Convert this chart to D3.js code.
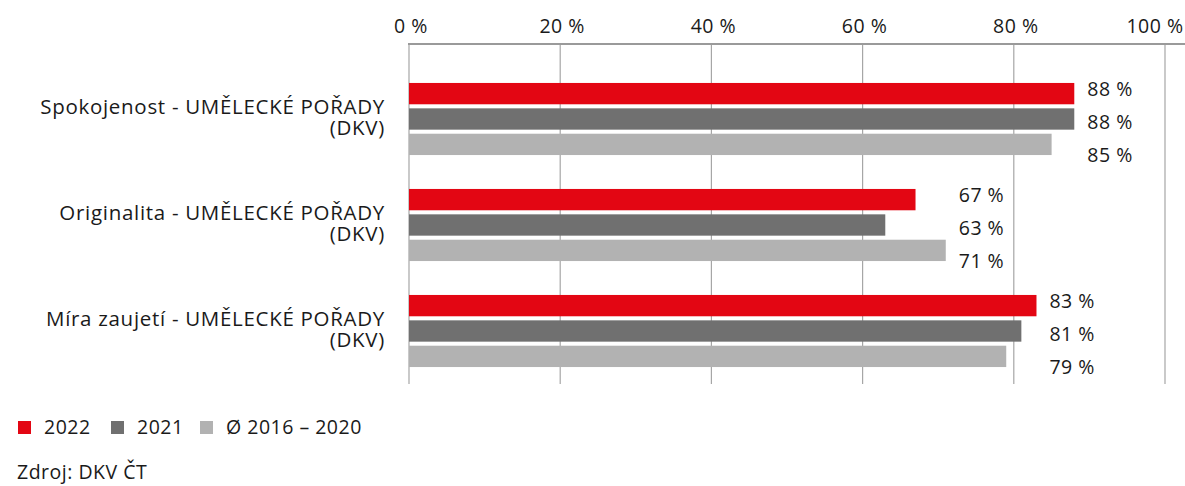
<!DOCTYPE html>
<html>
<head>
<meta charset="utf-8">
<script src="https://cdn.jsdelivr.net/npm/d3@7"></script>
<style>
  body { margin: 0; background: #fff; }
  text { font-family: "Open Sans", sans-serif; fill: #1a1a1a; letter-spacing: 0.5px; }
</style>
</head>
<body>
<script>
// data
var kategorie = [
  ["Spokojenost - UMĚLECKÉ POŘADY", "(DKV)"],
  ["Originalita - UMĚLECKÉ POŘADY", "(DKV)"],
  ["Míra zaujetí - UMĚLECKÉ POŘADY", "(DKV)"]
];
var serie = ["2022", "2021", "Ø 2016 – 2020"];
var hodnoty2022 = [88, 67, 83];
var hodnoty2021 = [88, 63, 81];
var hodnotyPrumer = [85, 71, 79];
var ticky = [0, 20, 40, 60, 80, 100];
var barvy = ["#e30613", "#707070", "#b2b2b2"];

var ancho = 1185, alto = 486;
var hodnoty = [hodnoty2022, hodnoty2021, hodnotyPrumer];
var velikost = 19.5;

var svg = d3.select("body")
  .append("svg")
  .attr("width", ancho)
  .attr("height", alto);

// scales
var x = d3.scaleLinear().domain([0, 100]).range([409, 1165]);
var y = d3.scaleBand().domain(d3.range(kategorie.length))
  .range([66, 384]).paddingInner(0.32).paddingOuter(0.16);
var yIn = d3.scaleBand().domain(d3.range(serie.length))
  .range([0, y.bandwidth()]).paddingInner(0.16);
// popisky hodnot jsou trochu roztazene
var yLab = d3.scalePoint().domain(d3.range(serie.length))
  .range([-30, 36]);

// grid
svg.selectAll(".grid")
  .data(ticky)
  .enter()
  .append("line")
  .attr("x1", d => x(d))
  .attr("x2", d => x(d))
  .attr("y1", 44)
  .attr("y2", 384)
  .attr("stroke", "#a6a6a6")
  .attr("stroke-width", 1.2);

svg.append("line")
  .attr("x1", x(0) - 1)
  .attr("x2", ancho)
  .attr("y1", 44)
  .attr("y2", 44)
  .attr("stroke", "#9a9a9a")
  .attr("stroke-width", 2);

svg.selectAll(".tick")
  .data(ticky)
  .enter()
  .append("text")
  .attr("x", d => Math.min(x(d) + 2, ancho - 30))
  .attr("y", 33)
  .attr("text-anchor", "middle")
  .attr("font-size", velikost)
  .text(d => d + " %");

// bars
var skupiny = svg.selectAll(".g")
  .data(kategorie)
  .enter()
  .append("g")
  .attr("transform", (d, i) => "translate(0," + y(i) + ")");

skupiny.each(function(k, ci) {
  var g = d3.select(this);
  var vals = serie.map((s, si) => hodnoty[si][ci]);
  var maxV = d3.max(vals);
  g.selectAll("rect")
    .data(vals)
    .enter()
    .append("rect")
    .attr("x", x(0))
    .attr("y", (d, i) => yIn(i))
    .attr("width", d => x(d) - x(0))
    .attr("height", yIn.bandwidth())
    .attr("fill", (d, i) => barvy[i]);
  g.selectAll(".val")
    .data(vals)
    .enter()
    .append("text")
    .attr("x", x(maxV) + 13)
    .attr("y", (d, i) => y.bandwidth() / 2 + yLab(i))
    .attr("dy", "0.35em")
    .attr("font-size", velikost)
    .text(d => d + " %");
  // dvouradkovy popisek kategorie
  var t = g.append("text")
    .attr("x", 385)
    .attr("y", y.bandwidth() / 2 - 12)
    .attr("text-anchor", "end")
    .attr("font-size", 20.5)
    .style("letter-spacing", "0.7px");
  t.selectAll("tspan")
    .data(k)
    .enter()
    .append("tspan")
    .attr("x", 385)
    .attr("dy", (d, i) => i == 0 ? "0.35em" : "21")
    .text(d => d);
});

// legend
var legX = [18, 111, 200];
var leg = svg.selectAll(".leg")
  .data(serie)
  .enter()
  .append("g")
  .attr("transform", (d, i) => "translate(" + legX[i] + ",421)");
leg.append("rect")
  .attr("width", 13)
  .attr("height", 13)
  .attr("fill", (d, i) => barvy[i]);
leg.append("text")
  .attr("x", 26)
  .attr("y", 6.5)
  .attr("dy", "0.35em")
  .attr("font-size", velikost)
  .text(d => d);

svg.append("text")
  .attr("x", 17)
  .attr("y", 479)
  .attr("font-size", velikost)
  .text("Zdroj: DKV ČT");
</script>
</body>
</html>
